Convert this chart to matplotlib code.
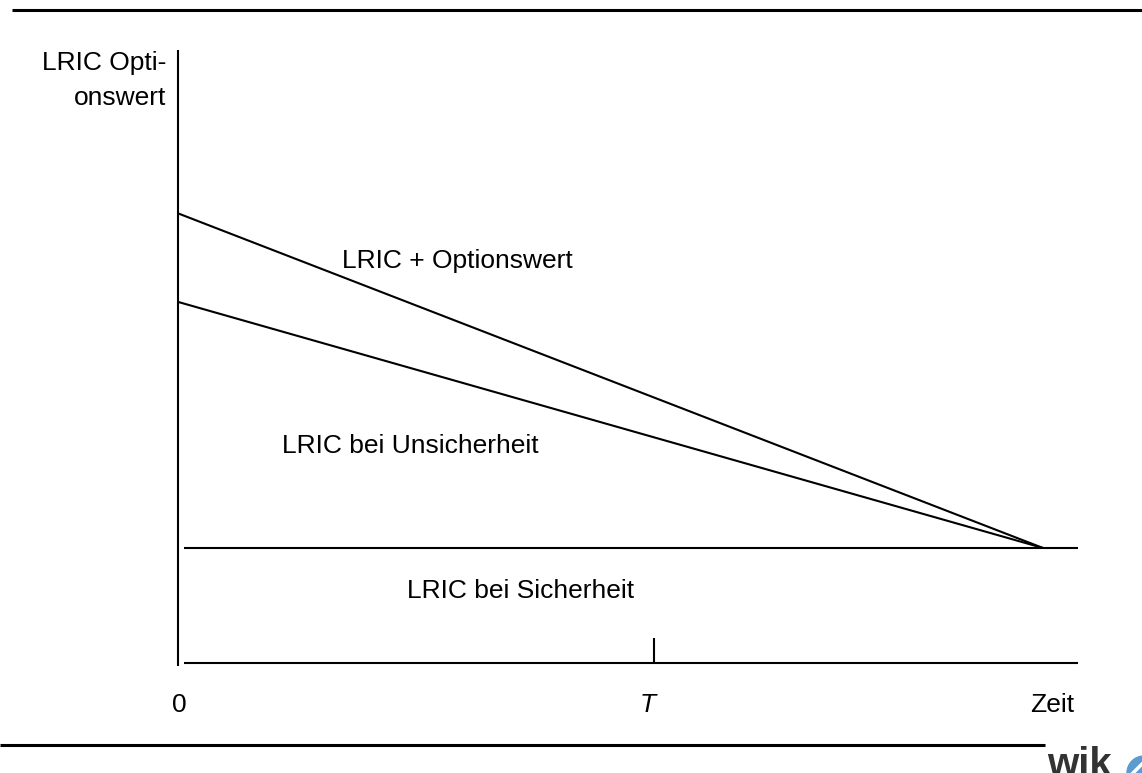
import matplotlib
matplotlib.use("Agg")
import matplotlib.pyplot as plt
from matplotlib.patches import Circle

plt.rcParams['font.family'] = ['Liberation Sans', 'DejaVu Sans']

# time runs from 0 to the point where all curves meet (1.0)
time = [0.0, 1.0]
lric_sicherheit = [1.0, 1.0]
lric_unsicherheit = [3.14, 1.0]
lric_optionswert = [3.91, 1.0]
t_mark = 0.55
t_end = 1.04
axis_top = 5.33

W, H = 1142, 773
fig = plt.figure(figsize=(W / 100, H / 100), dpi=100)

# overlay in pixel coords for rules, labels and the logo
over = fig.add_axes([0, 0, 1, 1])
over.set_xlim(0, W)
over.set_ylim(H, 0)
over.axis('off')

# chart axes: x=0 -> px 178, x=1 -> px 1043 ; y=0 -> px 663, y=1 -> px 548
x0, x1, y0, y1 = 178, 1043, 663, 548
ax = fig.add_axes([x0 / W, (H - y0) / H, (x1 - x0) / W, (y0 - y1) / H])
ax.set_xlim(0, 1)
ax.set_ylim(0, 1)
ax.axis('off')

kw = dict(color='black', lw=1.5, clip_on=False, solid_capstyle='butt')
ax.plot([0, 0], [-0.026, axis_top], **kw)
ax.plot([0.007, t_end], [0, 0], **kw)
ax.plot([t_mark, t_mark], [0, 0.217], **kw)
ax.plot([0.007, t_end], lric_sicherheit, **kw)
ax.plot(time, lric_optionswert, **kw)
ax.plot(time, lric_unsicherheit, **kw)

# rules top and bottom
over.plot([12, W], [10, 10], color='black', lw=2.2, solid_capstyle='butt')
over.plot([0, 1045], [745, 745], color='black', lw=2.2, solid_capstyle='butt')

fs = 19
over.text(342, 268, "LRIC + Optionswert", fontsize=fs, va='baseline', ha='left')
over.text(282, 453, "LRIC bei Unsicherheit", fontsize=fs, va='baseline', ha='left')
over.text(407, 598, "LRIC bei Sicherheit", fontsize=fs, va='baseline', ha='left')
over.text(166, 70, "LRIC Opti-", fontsize=fs, va='baseline', ha='right')
over.text(166, 105, "onswert", fontsize=fs, va='baseline', ha='right')
over.text(179, 712, "0", fontsize=fs, va='baseline', ha='center')
over.text(648, 712, "T", fontsize=fs, va='baseline', ha='center', style='italic')
over.text(1074, 712, "Zeit", fontsize=fs, va='baseline', ha='right')

# logo, cut at the bottom edge like in the original
over.text(1047, 776, "wik", fontsize=29, va='baseline', ha='left',
          color='#333333', fontweight='bold')
over.add_patch(Circle((1144, 773), 17, color='#5b9bcf'))
over.plot([1128, 1142], [778, 764], color='white', lw=2.5)

fig.savefig("out.png", dpi=100)
